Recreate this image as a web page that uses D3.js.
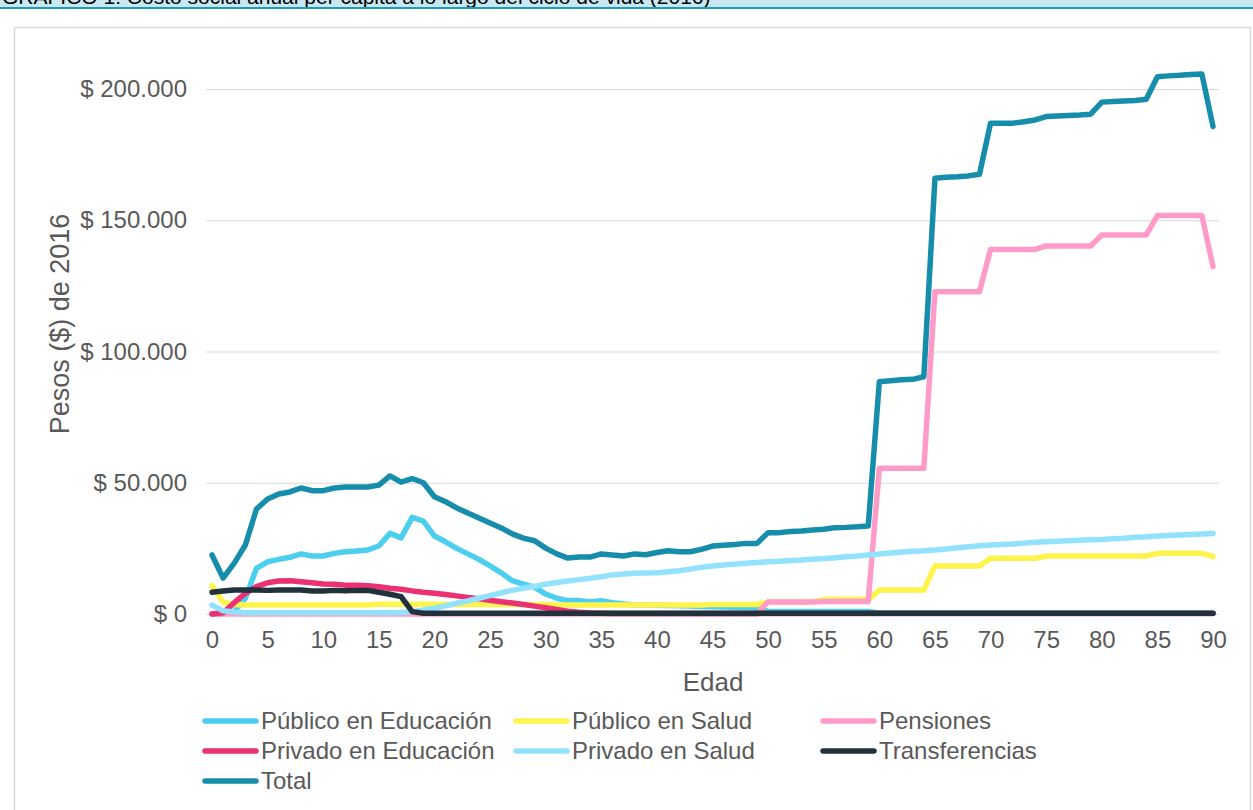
<!DOCTYPE html>
<html>
<head>
<meta charset="utf-8">
<script src="https://cdn.jsdelivr.net/npm/d3@7/dist/d3.min.js"></script>
<style>
  html, body { margin: 0; padding: 0; background: #fff; }
  svg { display: block; }
  text { font-family: "Liberation Sans", Arial, sans-serif; }
</style>
</head>
<body>
<svg id="chart" width="1253" height="810"></svg>
<script>
// Edades 0 a 90
const ages = d3.range(0, 91);

// Costo social anual per cápita, pesos de 2016
const publicoEducacion = [
  0, 0, 1000, 6000, 17400, 19900, 20800, 21600, 22900, 22100,
  22100, 23100, 23700, 24000, 24400, 25900, 30700, 29000, 36800, 35400,
  29700, 27500, 25000, 22900, 20800, 18300, 15700, 12700, 11400, 10200,
  7600, 6000, 5100, 5100, 4700, 5100, 4300, 3800, 3400, 3400,
  3300, 3200, 3100, 3000, 2900, 2800, 2700, 2600, 2500, 2400,
  1000, 1000, 1000, 1000, 1000, 1000, 1000, 1000, 1000, 1000,
  300, 300, 300, 300, 300, 300, 300, 300, 300, 300,
  300, 300, 300, 300, 300, 300, 300, 300, 300, 300,
  300, 300, 300, 300, 300, 300, 300, 300, 300, 300, 300
];

const publicoSalud = [
  10800, 4500, 3600, 3400, 3400, 3400, 3400, 3400, 3400, 3400,
  3400, 3400, 3400, 3400, 3400, 3700, 3700, 3700, 3700, 3700,
  3700, 3600, 3600, 3600, 3600, 3600, 3600, 3600, 3600, 3600,
  3600, 3400, 3400, 3400, 3400, 3400, 3400, 3400, 3400, 3400,
  3400, 3400, 3400, 3400, 3400, 3600, 3600, 3600, 3600, 3600,
  4600, 4600, 4600, 4600, 4600, 5500, 5500, 5500, 5500, 5500,
  9100, 9100, 9100, 9100, 9100, 18300, 18300, 18300, 18300, 18300,
  21200, 21200, 21200, 21200, 21200, 22100, 22100, 22100, 22100, 22100,
  22100, 22100, 22100, 22100, 22100, 23100, 23100, 23100, 23100, 23100, 21900
];

const pensiones = [
  0, 0, 0, 0, 0, 0, 0, 0, 0, 0,
  0, 0, 0, 0, 0, 0, 0, 0, 0, 0,
  0, 0, 0, 0, 0, 0, 0, 0, 0, 0,
  0, 0, 0, 0, 0, 0, 0, 0, 0, 0,
  0, 0, 0, 0, 0, 0, 0, 0, 0, 0,
  4600, 4600, 4600, 4600, 4600, 4800, 4800, 4800, 4800, 4800,
  55500, 55500, 55500, 55500, 55500, 122800, 122800, 122800, 122800, 122800,
  138900, 138900, 138900, 138900, 138900, 140200, 140200, 140200, 140200, 140200,
  144400, 144400, 144400, 144400, 144400, 151800, 151800, 151800, 151800, 151800, 132300
];

const privadoEducacion = [
  0, 500, 4300, 7900, 10400, 11900, 12600, 12700, 12300, 11900,
  11400, 11300, 11000, 11000, 10800, 10400, 9800, 9400, 8800, 8300,
  7900, 7400, 6900, 6300, 5800, 5200, 4700, 4200, 3600, 3000,
  2400, 1700, 1100, 700, 400, 300, 200, 200, 200, 200,
  200, 200, 200, 200, 200, 200, 200, 200, 200, 200,
  200, 200, 200, 200, 200, 200, 200, 200, 200, 200,
  200, 200, 200, 200, 200, 200, 200, 200, 200, 200,
  200, 200, 200, 200, 200, 200, 200, 200, 200, 200,
  200, 200, 200, 200, 200, 200, 200, 200, 200, 200, 200
];

const privadoSalud = [
  3400, 1200, 800, 500, 500, 500, 500, 500, 500, 500,
  500, 500, 500, 500, 500, 500, 500, 600, 900, 1500,
  2200, 3100, 4100, 5000, 6000, 7000, 8100, 9000, 9800, 10600,
  11300, 12000, 12600, 13100, 13600, 14200, 14900, 15200, 15500, 15600,
  15700, 16100, 16500, 17100, 17800, 18300, 18700, 19000, 19300, 19600,
  19900, 20100, 20400, 20600, 20900, 21100, 21400, 21800, 22100, 22500,
  22900, 23200, 23600, 23900, 24100, 24400, 24800, 25200, 25600, 26000,
  26300, 26500, 26700, 27000, 27300, 27500, 27700, 27900, 28100, 28300,
  28400, 28700, 28900, 29200, 29400, 29700, 29900, 30100, 30300, 30500, 30700
];

const transferencias = [
  8300, 8800, 9100, 9100, 9100, 9000, 9100, 9100, 9100, 8800,
  8800, 9000, 8900, 9000, 9000, 8300, 7500, 6600, 900, 300,
  300, 300, 300, 300, 300, 300, 300, 300, 300, 300,
  300, 300, 300, 300, 300, 300, 300, 300, 300, 300,
  300, 300, 300, 300, 300, 300, 300, 300, 300, 300,
  300, 300, 300, 300, 300, 300, 300, 300, 300, 300,
  300, 300, 300, 300, 300, 300, 300, 300, 300, 300,
  300, 300, 300, 300, 300, 300, 300, 300, 300, 300,
  300, 300, 300, 300, 300, 300, 300, 300, 300, 300, 300
];

const total = [
  22500, 13700, 19400, 26300, 40000, 43800, 45700, 46500, 48000, 47000,
  47000, 48000, 48400, 48400, 48400, 49100, 52600, 50200, 51600, 50000,
  44700, 42800, 40400, 38500, 36600, 34700, 32800, 30500, 28900, 27900,
  25100, 22900, 21300, 21700, 21700, 22900, 22500, 22100, 22900, 22600,
  23400, 24100, 23700, 23700, 24600, 25900, 26200, 26500, 26900, 26900,
  31000, 31000, 31400, 31600, 32000, 32300, 32900, 33000, 33200, 33500,
  88500, 88900, 89200, 89400, 90400, 166000, 166400, 166600, 166900, 167500,
  187000, 187000, 187000, 187500, 188200, 189500, 189700, 189900, 190100, 190400,
  195000, 195200, 195400, 195600, 196100, 204700, 205000, 205200, 205500, 205700, 185700
];

const seriesNames = [
  "Público en Educación", "Público en Salud", "Pensiones",
  "Privado en Educación", "Privado en Salud", "Transferencias", "Total"
];
const seriesValues = [
  publicoEducacion, publicoSalud, pensiones,
  privadoEducacion, privadoSalud, transferencias, total
];
const seriesColors = [
  "#4ccfee", "#fff44c", "#ff9bc9", "#ea3172", "#92e2fe", "#22323d", "#168eab"
];

const yTicks = [0, 50000, 100000, 150000, 200000];
const xTicks = d3.range(0, 91, 5);

const titleText = "GRÁFICO 1: Costo social anual per cápita a lo largo del ciclo de vida (2016)";
const xTitle = "Edad";
const yTitle = "Pesos ($) de 2016";

const svg = d3.select("#chart");
const W = 1253, H = 810;

// Franja de título
svg.append("rect").attr("x", 0).attr("y", 0).attr("width", W).attr("height", 8)
  .attr("fill", "#c8e7f1");
svg.append("text").attr("x", 2).attr("y", 4)
  .attr("font-size", 21).attr("fill", "#000").text(titleText);
svg.append("rect").attr("x", 0).attr("y", 7).attr("width", W).attr("height", 2)
  .attr("fill", "#1a9cc1");

// Marco del gráfico
svg.append("rect").attr("x", 14.5).attr("y", 27.5).attr("width", 1236).attr("height", 800)
  .attr("fill", "#fff").attr("stroke", "#d9d9d9").attr("stroke-width", 1.5);

const x = d3.scaleLinear().domain([0, 90]).range([212, 1213]);
const y = d3.scaleLinear().domain([0, 200000]).range([614, 89]);

const loc = d3.formatLocale({ decimal: ",", thousands: ".", grouping: [3], currency: ["$ ", ""] });
const fmt = loc.format("$,");

// Líneas de cuadrícula y etiquetas del eje Y
const yAxis = d3.axisLeft(y).tickValues(yTicks).tickFormat(fmt)
  .tickSize(-(1219 - 206)).tickPadding(19);
const gy = svg.append("g").attr("transform", "translate(206,0)").call(yAxis);
gy.select(".domain").remove();
gy.selectAll(".tick line").attr("stroke", "#d9d9d9").attr("stroke-width", 1);
gy.selectAll(".tick text").attr("fill", "#595959").attr("font-size", 24)
  .attr("font-family", "Liberation Sans, Arial, sans-serif");

// Etiquetas del eje X
const xAxis = d3.axisBottom(x).tickValues(xTicks).tickFormat(d3.format("d"))
  .tickSize(0).tickPadding(17);
const gx = svg.append("g").attr("transform", "translate(0,614)").call(xAxis);
gx.select(".domain").remove();
gx.selectAll(".tick text").attr("fill", "#595959").attr("font-size", 24)
  .attr("font-family", "Liberation Sans, Arial, sans-serif");

// Títulos de ejes
svg.append("text").attr("x", 713).attr("y", 691).attr("text-anchor", "middle")
  .attr("font-size", 26).attr("fill", "#595959").text(xTitle);
svg.append("text").attr("transform", "translate(69,324) rotate(-90)")
  .attr("text-anchor", "middle").attr("font-size", 27).attr("fill", "#595959").text(yTitle);

// Series
const line = d3.line().x((d, i) => x(ages[i])).y(d => y(d));
const plot = svg.append("g");
seriesValues.forEach((vals, k) => {
  plot.append("path").datum(vals)
    .attr("d", line)
    .attr("fill", "none")
    .attr("stroke", seriesColors[k])
    .attr("stroke-width", 5.5)
    .attr("stroke-linejoin", "round")
    .attr("stroke-linecap", "round");
});

// Leyenda
const legCols = [203, 514, 821];
const legRows = [721, 751, 781];
const leg = svg.append("g");
seriesNames.forEach((name, k) => {
  const cx = legCols[k % 3], cy = legRows[Math.floor(k / 3)];
  leg.append("line").attr("x1", cx + 2).attr("x2", cx + 53).attr("y1", cy).attr("y2", cy)
    .attr("stroke", seriesColors[k]).attr("stroke-width", 5.5).attr("stroke-linecap", "round");
  leg.append("text").attr("x", cx + 58).attr("y", cy).attr("dy", "0.35em")
    .attr("font-size", 24).attr("fill", "#595959").text(name);
});
</script>
</body>
</html>
